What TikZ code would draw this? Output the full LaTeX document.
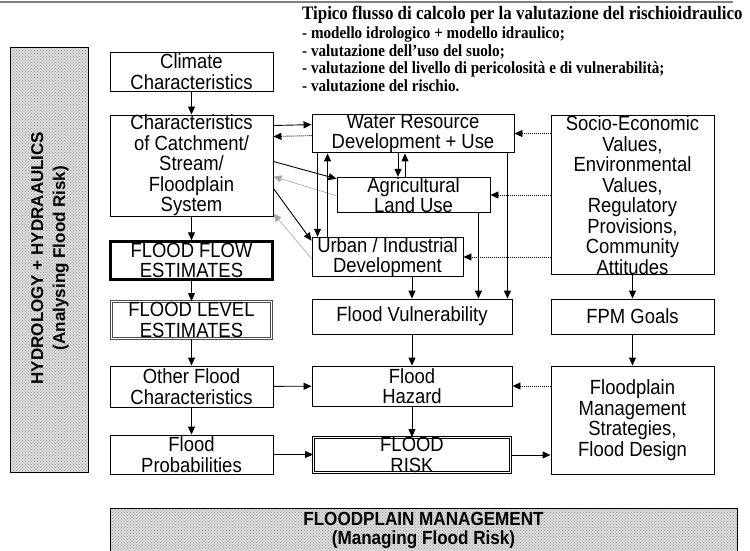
\documentclass[tikz,border=0pt]{standalone}
\usepackage{fontspec}
\setmainfont{Liberation Sans}
\newfontfamily\boxfont{Liberation Sans}[FakeStretch=0.9]
\newfontfamily\titlefont{Liberation Serif}[FakeStretch=0.89]
\usetikzlibrary{positioning,arrows.meta,patterns}

\begin{document}
\begin{tikzpicture}[x=1pt,y=-1pt,
% Boxes style
    box/.style={draw,line width=0.9pt,fill=white,align=center,inner sep=0pt,
		font=\boxfont\fontsize{20.5}{20.5}\selectfont},
    thickbox/.style={box,line width=2.4pt},
    dblbox/.style={box,double,double distance=1.5pt,line width=0.8pt},
% Side panels style
    panel/.style={draw,line width=0.8pt,preaction={fill=gray!30},
		pattern=crosshatch dots,pattern color=gray!75},
    panellabel/.style={align=center,font=\fontsize{17}{22}\selectfont\bfseries},
% Connectors style
    link/.style={-{Triangle[length=8pt,width=7pt]},line width=0.9pt},
    dlink/.style={link,dash pattern=on 1pt off 1pt},
    glink/.style={link,draw=gray!70,line width=0.6pt}
    ]
    \useasboundingbox (0,0) rectangle (750,550);
    \draw[gray,line width=1.6pt] (0,2) -- (733,2);
%% Heading
    \node (title) [anchor=north west,inner sep=0pt,
		font=\titlefont\fontsize{19}{20}\selectfont\bfseries] at (302,6)
		{Tipico flusso di calcolo per la valutazione del rischioidraulico};
    \node (notes) [anchor=north west,inner sep=0pt,align=left,
		font=\titlefont\fontsize{17}{17.5}\selectfont\bfseries]
		at ([yshift=-3pt]title.south west)
		{- modello idrologico + modello idraulico;\\
		 - valutazione dell’uso del suolo;\\
		 - valutazione del livello di pericolosità e di vulnerabilità;\\
		 - valutazione del rischio.};
%% Panels
    \draw[panel] (10,47) rectangle (88,472);
    \node (hyd) [panellabel,rotate=90] at (50,258)
		{HYDROLOGY + HYDRAAULICS\\(Analysing Flood Risk)};
    \draw[panel] (110,508) rectangle (737,551);
    \node (fpmpanel) [panellabel,font=\boxfont\fontsize{19}{19}\selectfont\bfseries]
		at (423.5,530) {FLOODPLAIN MANAGEMENT\\(Managing Flood Risk)};
%% Left column
    \node (clim) [box,minimum width=163pt,minimum height=39pt] at (191.5,71.5)
		{Climate\\Characteristics};
    \node (catch) [box,minimum width=163pt,minimum height=99pt] at (191.5,165.5)
		{Characteristics\\of Catchment/\\Stream/\\Floodplain\\System};
    \node (flowest) [thickbox,minimum width=162pt,minimum height=38pt] at (191.5,260.5)
		{FLOOD FLOW\\ESTIMATES};
    \node (level) [dblbox,draw=black!70,minimum width=160pt,minimum height=37pt] at (191.5,320)
		{FLOOD LEVEL\\ESTIMATES};
    \node (other) [box,minimum width=163pt,minimum height=41pt] at (191.5,386.5)
		{Other Flood\\Characteristics};
    \node (prob) [box,minimum width=163pt,minimum height=39pt] at (191.5,454.5)
		{Flood\\Probabilities};
%% Middle column
    \node (water) [box,minimum width=202pt,minimum height=35pt] at (413,133.5)
		{Water Resource\\Development + Use};
    \node (agri) [box,minimum width=153pt,minimum height=34pt] at (413.5,195)
		{Agricultural\\Land Use};
    \node (urban) [box,minimum width=151pt,minimum height=34pt] at (387.5,257)
		{Urban / Industrial\\Development};
    \node (vuln) [box,minimum width=200pt,minimum height=35pt] at (412,316.5)
		{Flood Vulnerability};
    \node (haz) [box,minimum width=200pt,minimum height=40pt] at (412,386)
		{Flood\\Hazard};
    \node (risk) [dblbox,minimum width=197pt,minimum height=35pt] at (412,455)
		{FLOOD\\RISK};
%% Right column
    \node (socio) [box,minimum width=163pt,minimum height=158pt] at (632.5,195)
		{Socio-Economic\\Values,\\Environmental\\Values,\\Regulatory\\Provisions,\\Community\\Attitudes};
    \node (goals) [box,minimum width=163pt,minimum height=35pt] at (632.5,316.5)
		{FPM Goals};
    \node (fpm) [box,minimum width=163pt,minimum height=108pt] at (632.5,420)
		{Floodplain\\Management\\Strategies,\\Flood Design};
%% Left column connectors
    \draw[link] (clim) -- (catch);
    \draw[link] (catch) -- (flowest);
    \draw[link] (flowest) -- (level);
    \draw[link] (level) -- (other);
    \draw[link] (other) -- (prob);
    \draw[link] (other) -- (haz);
    \draw[link] (prob.east) -- (prob.east -| risk.west);
%% Catchment and land use connectors
    \draw[link] ([yshift=-11pt]catch.north east) -- ([yshift=-11pt]water.north west);
    \draw[dlink] ([yshift=-22pt]water.north west) -- ([yshift=-22pt]catch.north east);
    \draw[link] ([yshift=-47pt]catch.north east) -- ([yshift=-2pt]agri.north west);
    \draw[glink] ([yshift=-19pt]agri.north west) -- ([yshift=-62pt]catch.north east);
    \draw[link] ([yshift=-74pt]catch.north east) -- ([yshift=-4pt]urban.north west);
    \draw[glink] ([yshift=-22pt]urban.north west) -- ([yshift=3pt]catch.south east);
    \draw[link] ([xshift=6pt]water.south west) -- ([xshift=6pt]urban.north west);
    \draw[link] ([xshift=16pt]urban.north west) -- ([xshift=16pt]water.south west);
    \draw[link] ([xshift=-15pt]water.south) -- ([xshift=-15pt]water.south |- agri.north);
    \draw[link] ([xshift=-8pt]water.south |- agri.north) -- ([xshift=-8pt]water.south);
%% Into vulnerability
    \draw[link] (urban.south -| vuln.north) -- (vuln.north);
    \draw[link] ([xshift=-12pt]agri.south east) -- ([xshift=-12pt]agri.south east |- vuln.north);
    \draw[link] ([xshift=-7pt]water.south east) -- ([xshift=-7pt]water.south east |- vuln.north);
    \draw[link] (vuln) -- (haz);
    \draw[link] (haz) -- (risk);
%% Right column connectors
    \draw[dlink] (socio.west |- water.east) -- (water.east);
    \draw[dlink] (socio.west |- agri.east) -- (agri.east);
    \draw[dlink] (socio.west |- urban.east) -- (urban.east);
    \draw[link] (socio) -- (goals);
    \draw[link] (goals) -- (fpm);
    \draw[dlink] (fpm.west |- haz.east) -- (haz.east);
    \draw[link] (risk.east) -- (risk.east -| fpm.west);

\end{tikzpicture}
\end{document}
